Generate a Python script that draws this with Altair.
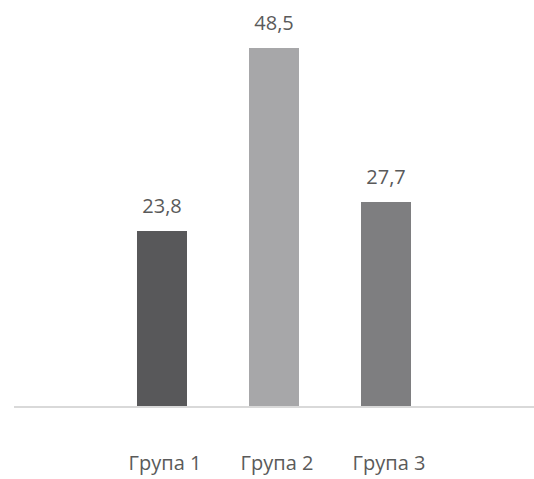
import altair as alt
import pandas as pd

groups = ["Група 1", "Група 2", "Група 3"]
values = [23.8, 48.5, 27.7]
colors = ["#58585a", "#a7a7a9", "#7e7e80"]

df = pd.DataFrame({"group": groups, "value": values, "color": colors})

FONT = "Open Sans"

x = alt.X(
    "group:N",
    sort=groups,
    scale=alt.Scale(range=[123, 397], paddingInner=0.5536, paddingOuter=0),
    axis=alt.Axis(
        title=None,
        ticks=False,
        grid=False,
        domain=False,
        labelAngle=0,
        labelFont=FONT,
        labelFontSize=20,
        labelColor="#5a5a5a",
        labelPadding=46,
        labelOffset=3,
    ),
)
y = alt.Y(
    "value:Q",
    scale=alt.Scale(domain=[0, 50], nice=False),
    axis=None,
)

bars = alt.Chart(df).mark_bar(size=50).encode(
    x=x,
    y=y,
    color=alt.Color("color:N", scale=None),
)

# horizontal baseline across the full plot width
baseline = alt.Chart(df).transform_calculate(zero="0").mark_rule(
    color="#d9d9d9", strokeWidth=2
).encode(
    y=alt.Y("zero:Q", scale=alt.Scale(domain=[0, 50], nice=False), axis=None),
    x=alt.value(0),
    x2=alt.value(520),
)

labels = alt.Chart(df).transform_calculate(
    label="replace(format(datum.value, '.1f'), '.', ',')"
).mark_text(
    font=FONT, fontSize=20, color="#5a5a5a", baseline="alphabetic", dy=-18
).encode(
    x=alt.X("group:N", sort=groups),
    y=y,
    text="label:N",
)

chart = (
    alt.layer(bars, baseline, labels)
    .properties(
        width=520,
        height=370,
        padding={"left": 14, "top": 37, "right": 0, "bottom": 72},
        autosize=alt.AutoSizeParams(type="none"),
        view=alt.ViewBackground(stroke="transparent", strokeWidth=0),
    )
    .configure_view(stroke="transparent", strokeWidth=0)
    .configure_axis(grid=False)
    .configure(background="white")
)

chart.save("out.html", embed_options={"renderer": "svg", "actions": False})
